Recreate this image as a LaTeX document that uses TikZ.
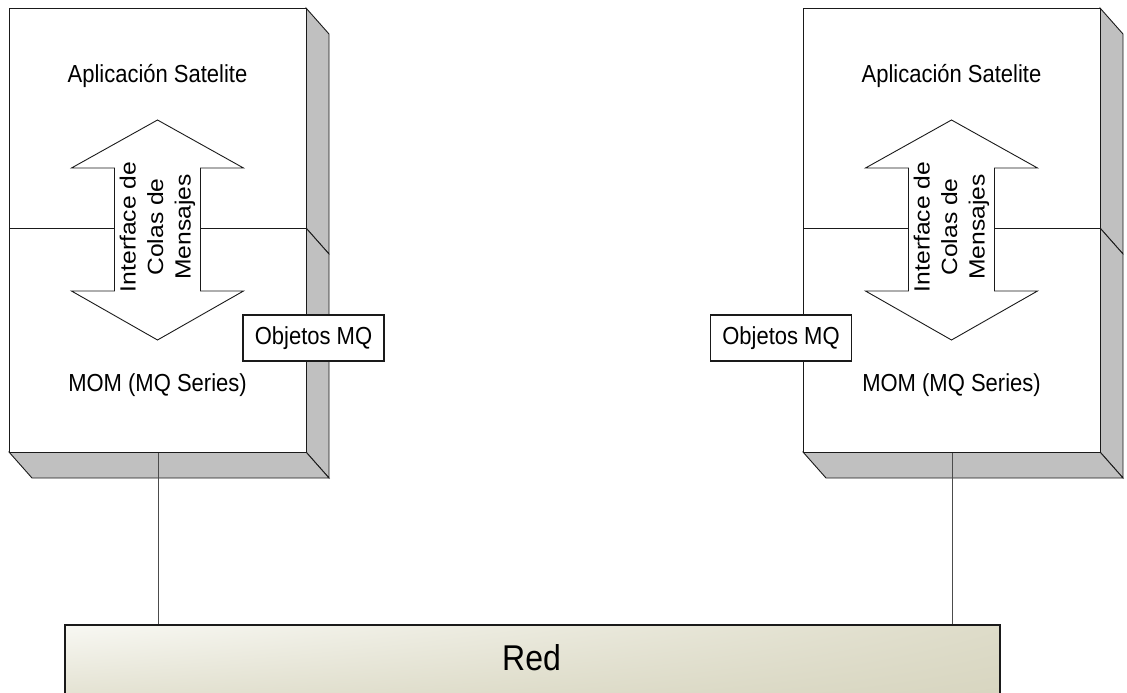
\documentclass[tikz,border=0pt]{standalone}
\usepackage{fontspec}
\setmainfont{Liberation Sans}
\usetikzlibrary{shadings}
\definecolor{sidegray}{HTML}{C0C0C0}
\definecolor{edgecol}{HTML}{1A1A1A}
\definecolor{barlight}{HTML}{F8F8F3}
\definecolor{barmid}{HTML}{DEDCC9}
\definecolor{bardark}{HTML}{D6D4BE}
\begin{document}
\begin{tikzpicture}[x=1pt,y=-1pt,
  line/.style={draw=edgecol, line width=0.9pt},
  sideface/.style={line, fill=sidegray, line join=miter},
  frontface/.style={line, fill=white, rectangle, inner sep=0pt, anchor=north west},
  txt/.style={font=\fontsize{22}{27.5}\selectfont, inner sep=0pt, yscale=1.12},
  vtxt/.style={txt, rotate=90, align=center},
  tagbox/.style={line, line width=1.1pt, fill=white, rectangle, inner sep=0pt,
    minimum width=141pt, minimum height=41pt, font=\fontsize{22}{27}\selectfont, yscale=1.12},
  dblarrow/.style={line, fill=white, line join=miter},
  conn/.style={draw=black!70, line width=0.9pt},
  redbar/.style={draw=edgecol, line width=1.6pt, rectangle, inner sep=0pt, anchor=north west,
    upper left=barlight, upper right=barmid, lower left=barmid, lower right=bardark}]

\useasboundingbox (0,0) rectangle (1127,693);
\clip (0,0) rectangle (1127,693);

% two satellite nodes, each a pair of stacked blocks with depth
\foreach \ox/\n in {0/L, 794/R} {
  \begin{scope}[xshift=\ox pt]
    % depth faces
    \path[sideface] (306,8) -- (329,34) -- (329,254) -- (306,228) -- cycle;
    \path[sideface] (306,228) -- (329,254) -- (329,478) -- (306,452) -- cycle;
    \path[sideface] (9,452) -- (306,452) -- (329,478) -- (32,478) -- cycle;
    % front faces
    \node[frontface, minimum width=297pt, minimum height=220pt] (app\n) at (9,8) {};
    \node[frontface, minimum width=297pt, minimum height=224pt] (mom\n) at (9,228) {};
    % message queue interface
    \path[dblarrow] (157.5,120) -- (243.5,168) -- (200.5,168) -- (200.5,291) -- (243.5,291)
      -- (157.5,340) -- (71.5,291) -- (114.5,291) -- (114.5,168) -- (71.5,168) -- cycle;
    \node[vtxt] (mqi\n) at (157.5,227) {Interface de\\Colas de\\Mensajes};
    % labels
    \node[txt] (appt\n) at (157.5,76) {Aplicación Satelite};
    \node[txt] (momt\n) at (157.5,385) {MOM (MQ Series)};
  \end{scope}
}

% MQ objects tags
\node[tagbox] (objL) at (313.5,338) {Objetos MQ};
\node[tagbox] (objR) at (781,338) {Objetos MQ};

% network
\node[redbar, minimum width=935pt, minimum height=90pt] (red) at (64,624) {};
\node[txt, font=\fontsize{32}{38}\selectfont] (redt) at (531.5,658) {Red};

% links to the network
\draw[conn] (momL.south) -- (momL.south |- red.north);
\draw[conn] (momR.south) -- (momR.south |- red.north);

\end{tikzpicture}
\end{document}
